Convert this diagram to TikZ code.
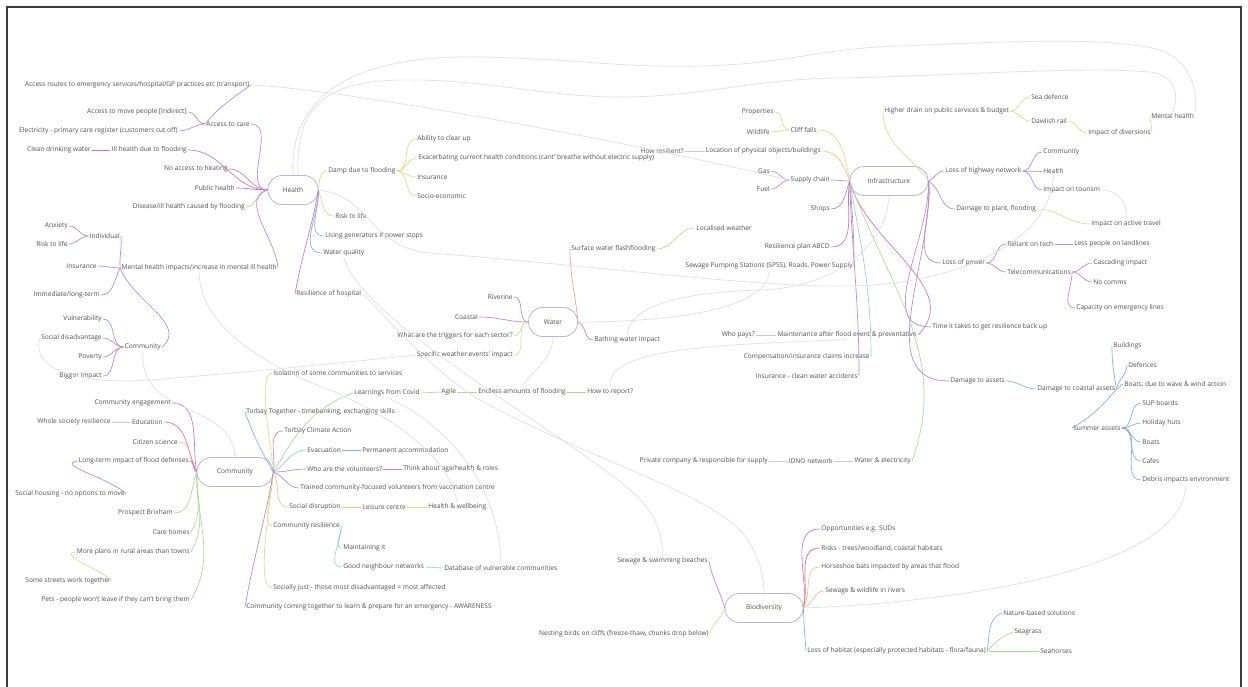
\documentclass[tikz,border=0pt]{standalone}
\usepackage{fontspec}
\setmainfont{Open Sans}
\usetikzlibrary{calc}
\definecolor{txt}{RGB}{80,80,86}
\definecolor{hubc}{RGB}{192,178,214}
\definecolor{cpu}{RGB}{178,135,208}
\definecolor{cmg}{RGB}{212,112,180}
\definecolor{cred}{RGB}{222,100,118}
\definecolor{cyg}{RGB}{216,222,135}
\definecolor{cgr}{RGB}{172,214,155}
\definecolor{cbl}{RGB}{132,170,222}
\definecolor{cte}{RGB}{150,205,200}
\definecolor{cor}{RGB}{236,192,142}
\definecolor{cpk}{RGB}{230,156,156}
\definecolor{cxg}{RGB}{200,200,205}
\definecolor{cxl}{RGB}{224,222,230}
\definecolor{framec}{RGB}{60,60,60}
\newcommand\mmfont{\fontsize{6.6}{7.6}\selectfont}
\begin{document}
\begin{tikzpicture}[x=1pt,y=-1pt,
  every path/.style={line width=0.65pt},
  tx/.style={font=\mmfont, text=txt, inner sep=1pt},
  tl/.style={tx, anchor=west},
  tr/.style={tx, anchor=east},
  hub/.style={draw=hubc, line width=0.8pt, rounded corners=14pt, minimum height=29pt,
    font=\mmfont, text=txt, inner sep=2pt},
  xl/.style={draw=cxl, line width=0.7pt},
  cpu/.style={draw=cpu}, cmg/.style={draw=cmg}, cred/.style={draw=cred},
  cyg/.style={draw=cyg}, cgr/.style={draw=cgr}, cbl/.style={draw=cbl},
  cte/.style={draw=cte}, cor/.style={draw=cor}, cpk/.style={draw=cpk},
  cxg/.style={draw=cxg}]
\useasboundingbox (0,0) rectangle (1248,686);
\fill[white] (0,0) rectangle (1248,686);
\draw[framec, line width=1.2pt] (7,700) -- (7,7) -- (1241,7) -- (1241,700);

% ---------------- Health ----------------
\node[hub, minimum width=50pt] (hl) at (293,190) {Health};
\node[tr] (acc) at (251,124) {Access to care};
\node[tr] (accr) at (251,85) {Access routes to emergency services/hospital/GP practices etc (transport)};
\node[tr] (accm) at (188,112) {Access to move people [Indirect]};
\node[tr] (elec) at (179,131) {Electricity - primary care register (customers cut off)};
\node[tr] (ill) at (188,150) {Ill health due to flooding};
\node[tr] (clean) at (92,150) {Clean drinking water};
\node[tr] (heat) at (229,169) {No access to heating};
\node[tr] (pub) at (236,188) {Public health};
\node[tr] (dis) at (246,207) {Disease/ill health caused by flooding};
\node[tr] (mh) at (278,268) {Mental health impacts/increase in mental ill health};
\node[tr] (ind) at (121,236) {Individual};
\node[tr] (anx) at (69,226) {Anxiety};
\node[tr] (rtla) at (69,244) {Risk to life};
\node[tr] (insa) at (98,266) {Insurance};
\node[tr] (imm) at (101,295) {Immediate/long-term};
\node[tr] (coms) at (162,347) {Community};
\node[tr] (vul) at (103,319) {Vulnerability};
\node[tr] (socd) at (103,338) {Social disadvantage};
\node[tr] (pov) at (103,357) {Poverty};
\node[tr] (big) at (103,376) {Bigger impact};
\node[tl] (damp) at (327,171) {Damp due to flooding};
\node[tl] (rtlb) at (334,216) {Risk to life};
\node[tl] (gen) at (324,236) {Using generators if power stops};
\node[tl] (wq) at (322,253) {Water quality};
\node[tl] (resh) at (295,294) {Resilience of hospital};
\node[tl] (abil) at (416,139) {Ability to clear up};
\node[tl] (exac) at (417,158) {Exacerbating current health conditions (cant' breathe without electric supply)};
\node[tl] (insb) at (416,177) {Insurance};
\node[tl] (soe) at (416,196) {Socio-economic};

\draw[cpu] (hl.west) to[out=180,in=0] (acc.east);
\draw[cpu] (acc.west) to[out=50,in=215] (accr.east);
\draw[cpu] (acc.west) to[out=180,in=0] (accm.east);
\draw[cpu] (acc.west) to[out=180,in=0] (elec.east);
\draw[cmg] (hl.west) to[out=180,in=0] (ill.east);
\draw[cmg] (ill.west) -- (clean.east);
\draw[cmg] (hl.west) to[out=180,in=0] (heat.east);
\draw[cmg] (hl.west) to[out=180,in=0] (pub.east);
\draw[cgr] (hl.west) to[out=180,in=0] (dis.east);
\draw[cpu] (hl.west) to[out=200,in=95] (mh.east);
\draw[cpu] (mh.west) to[out=95,in=-85] (ind.east);
\draw[cpu] (mh.west) to[out=180,in=0] (insa.east);
\draw[cpu] (mh.west) to[out=-120,in=0] (imm.east);
\draw[cpu] (mh.west) to[out=-70,in=40] (coms.east);
\draw[cpu] (ind.west) to[out=180,in=0] (anx.east);
\draw[cpu] (ind.west) to[out=180,in=0] (rtla.east);
\foreach \k in {vul,socd,pov,big} \draw[cpu] (coms.west) to[out=180,in=0] (\k.east);
\draw[cyg] (hl.east) to[out=80,in=180] (damp.west);
\draw[cyg] (hl.east) to[out=-70,in=180] (rtlb.west);
\draw[cbl] (hl.east) to[out=-85,in=180] (gen.west);
\draw[cbl] (hl.east) to[out=-88,in=180] (wq.west);
\draw[cmg] (hl.east) to[out=-100,in=80] (resh.west);
\foreach \k in {abil,exac,insb,soe} \draw[cyg] (damp.east) to[out=0,in=180] (\k.west);

% ---------------- Water ----------------
\node[hub, minimum width=49pt] (wa) at (553,322) {Water};
\node[tr] (riv) at (514,297) {Riverine};
\node[tr] (coast) at (479,317) {Coastal};
\node[tr] (trig) at (514,336) {What are the triggers for each sector?};
\node[tr] (spec) at (514,355) {Specific weather events' impact};
\node[tl] (surf) at (570,249) {Surface water flashflooding};
\node[tl] (locw) at (695,228) {Localised weather};
\node[tl] (bath) at (593,340) {Bathing water impact};
\draw[cpu] (wa.west) to[out=180,in=0] (riv.east);
\draw[cpu] (wa.west) to[out=180,in=0] (coast.east);
\draw[cyg] (wa.west) to[out=180,in=0] (trig.east);
\draw[cyg] (wa.west) to[out=180,in=0] (spec.east);
\draw[cpk] (wa.east) to[out=95,in=-90] (surf.west);
\draw[cor] (surf.east) to[out=0,in=180] (locw.west);
\draw[cpu] (wa.east) to[out=-20,in=180] (bath.west);

% ---------------- Infrastructure ----------------
\node[hub, minimum width=78pt] (inf) at (889,181) {Infrastructure};
\node[tr] (cliff) at (818,130) {Cliff falls};
\node[tr] (prop) at (775,112) {Properties};
\node[tr] (wild) at (771,132) {Wildlife};
\node[tr] (locp) at (822,151) {Location of physical objects/buildings};
\node[tr] (hres) at (685,151) {How resilient?};
\node[tr] (sup) at (831,180) {Supply chain};
\node[tr] (gas) at (771,171) {Gas};
\node[tr] (fuel) at (771,189) {Fuel};
\node[tr] (shops) at (831,209) {Shops};
\node[tr] (rpl) at (831,247) {Resilience plan ABCD};
\node[tr] (spss) at (854,266) {Sewage Pumping Stations (SPSS), Roads, Power Supply};
\node[tr] (maint) at (918,335) {Maintenance after flood event \& preventative};
\node[tr] (whop) at (756,335) {Who pays?};
\node[tr] (comp) at (871,357) {Compensation/insurance claims increase};
\node[tr] (insc) at (859,376) {Insurance - clean water accidents};
\node[tr] (wae) at (912,461) {Water \& electricity};
\node[tr] (idno) at (834,461) {IDNO network};
\node[tr] (priv) at (769,461) {Private company \& responsible for supply};
\node[tl] (hdr) at (883,111) {Higher drain on public services \& budget};
\node[tl] (sea) at (1030,97) {Sea defence};
\node[tl] (daw) at (1030,121) {Dawlish rail};
\node[tl] (div) at (1087,133) {Impact of diversions};
\node[tl] (mhi) at (1150,116) {Mental health};
\node[tl] (lhn) at (944,171) {Loss of highway network};
\node[tl] (comi) at (1042,152) {Community};
\node[tl] (hli) at (1042,171) {Health};
\node[tl] (tour) at (1042,190) {Impact on tourism};
\node[tl] (dmg) at (955,209) {Damage to plant, flooding};
\node[tl] (act) at (1090,224) {Impact on active travel};
\node[tl] (lop) at (941,263) {Loss of power};
\node[tl] (rel) at (1006,244) {Reliant on tech};
\node[tl] (less) at (1073,244) {Less people on landlines};
\node[tl] (tel) at (1006,272) {Telecommunications};
\node[tl] (casc) at (1092,263) {Cascading impact};
\node[tl] (noc) at (1092,282) {No comms};
\node[tl] (cap) at (1075,308) {Capacity on emergency lines};
\node[tl] (tim) at (931,327) {Time it takes to get resilience back up};
\node[tl] (dass) at (949,381) {Damage to assets};
\node[tl] (dca) at (1036,389) {Damage to coastal assets};
\node[tl] (bld) at (1112,346) {Buildings};
\node[tl] (dfn) at (1127,365) {Defences};
\node[tl] (bts) at (1123,384) {Boats, due to wave \& wind action};
\node[tl] (sum) at (1072,428) {Summer assets};
\node[tl] (supb) at (1141,403) {SUP boards};
\node[tl] (hol) at (1141,423) {Holiday huts};
\node[tl] (boats) at (1141,442) {Boats};
\node[tl] (caf) at (1141,461) {Cafes};
\node[tl] (deb) at (1141,480) {Debris impacts environment};

\draw[cyg] (inf.west) to[out=100,in=0] (cliff.east);
\draw[cyg] (cliff.west) to[out=180,in=0] (prop.east);
\draw[cyg] (cliff.west) to[out=180,in=0] (wild.east);
\draw[cor] (inf.west) to[out=110,in=0] (locp.east);
\draw[cxg] (locp.west) -- (hres.east);
\draw[cpu] (inf.west) to[out=180,in=0] (sup.east);
\draw[cpu] (sup.west) to[out=180,in=0] (gas.east);
\draw[cpu] (sup.west) to[out=180,in=0] (fuel.east);
\draw[cpu] (inf.west) to[out=250,in=0] (shops.east);
\draw[cmg] (inf.west) to[out=260,in=0] (rpl.east);
\draw[cpu] (inf.west) to[out=-85,in=90] (spss.east);
\draw[cmg] (inf.west) to[out=-75,in=45] (maint.east);
\draw[cxg] (maint.west) -- (whop.east);
\draw[cte] (inf.west) to[out=-80,in=90] (comp.east);
\draw[cpu] (inf.west) to[out=-88,in=90] (insc.east);
\draw[cgr] (inf.west) to[out=-70,in=70] (wae.east);
\draw[cxg] (wae.west) -- (idno.east);
\draw[cxg] (idno.west) -- (priv.east);
\draw[cyg] (inf.east) to[out=125,in=-90] (hdr.west);
\draw[cyg] (hdr.east) to[out=0,in=180] (sea.west);
\draw[cyg] (hdr.east) to[out=0,in=180] (daw.west);
\draw[cyg] (daw.east) to[out=0,in=180] (div.west);
\draw[cyg] (div.east) to[out=90,in=-90] (mhi.west);
\draw[cpu] (inf.east) to[out=20,in=180] (lhn.west);
\foreach \k in {comi,hli,tour} \draw[cpu] (lhn.east) to[out=0,in=180] (\k.west);
\draw[cpu] (inf.east) to[out=-30,in=180] (dmg.west);
\draw[cyg] (dmg.east) to[out=0,in=180] (act.west);
\draw[cpu] (inf.east) to[out=-80,in=180] (lop.west);
\draw[cpu] (lop.east) to[out=0,in=180] (rel.west);
\draw[cpu] (lop.east) to[out=0,in=180] (tel.west);
\draw[cpu] (rel.east) -- (less.west);
\draw[cpu] (tel.east) to[out=0,in=180] (casc.west);
\draw[cpu] (tel.east) to[out=0,in=180] (noc.west);
\draw[cpu] (tel.east) to[out=-90,in=180] (cap.west);
\draw[cpu] (inf.east) to[out=-88,in=180] (tim.west);
\draw[cpu] (inf.east) to[out=-86,in=180] (dass.west);
\draw[cbl] (dass.east) to[out=0,in=180] (dca.west);
\draw[cbl] (dca.east) to[out=100,in=-90] (bld.west);
\draw[cbl] (dca.east) to[out=80,in=-90] (dfn.west);
\draw[cbl] (dca.east) to[out=0,in=180] (bts.west);
\draw[cbl] (dca.east) to[out=-130,in=30] (sum.west);
\foreach \k in {supb,hol,boats,caf,deb} \draw[cbl] (sum.east) to[out=0,in=180] (\k.west);

% ---------------- Biodiversity ----------------
\node[hub, minimum width=78pt] (bio) at (764,608) {Biodiversity};
\node[tr] (sew) at (709,561) {Sewage \& swimming beaches};
\node[tr] (nest) at (710,634) {Nesting birds on cliffs (freeze-thaw, chunks drop below)};
\node[tl] (opp) at (820,529) {Opportunities e.g. SUDs};
\node[tl] (risk) at (820,548) {Risks - trees/woodland, coastal habitats};
\node[tl] (bats) at (820,567) {Horseshoe bats impacted by areas that flood};
\node[tl] (sewr) at (824,591) {Sewage \& wildlife in rivers};
\node[tl] (loh) at (806,651) {Loss of habitat (especially protected habitats - flora/fauna)};
\node[tl] (nbs) at (1002,613) {Nature-based solutions};
\node[tl] (sg) at (1013,632) {Seagrass};
\node[tl] (sh) at (1039,651) {Seahorses};
\draw[cpu] (bio.west) to[out=105,in=-80] (sew.east);
\draw[cyg] (bio.west) to[out=-105,in=80] (nest.east);
\draw[cmg] (bio.east) to[out=80,in=180] (opp.west);
\draw[cred] (bio.east) to[out=75,in=180] (risk.west);
\draw[cor] (bio.east) to[out=60,in=180] (bats.west);
\draw[cor] (bio.east) to[out=20,in=180] (sewr.west);
\draw[cbl] (bio.east) to[out=-88,in=95] (loh.west);
\draw[cbl] (loh.east) to[out=80,in=200] (nbs.west);
\draw[cgr] (loh.east) to[out=45,in=200] (sg.west);
\draw[cgr] (loh.east) -- (sh.west);

% ---------------- Community ----------------
\node[hub, minimum width=76pt] (cm) at (235,472) {Community};
\node[tr] (ceng) at (172,403) {Community engagement};
\node[tr] (edu) at (164,422) {Education};
\node[tr] (whole) at (112,422) {Whole society resilience};
\node[tr] (cit) at (179,442) {Citizen science};
\node[tr] (ltf) at (190,461) {Long-term impact of flood defenses};
\node[tr] (sho) at (126,494) {Social housing - no options to move};
\node[tr] (pb) at (174,513) {Prospect Brixham};
\node[tr] (ch) at (191,532) {Care homes};
\node[tr] (mp) at (191,552) {More plans in rural areas than towns};
\node[tr] (sst) at (112,581) {Some streets work together};
\node[tr] (pets) at (191,600) {Pets - people won't leave if they can't bring them};
\node[tl] (iso) at (272,373) {Isolation of some communities to services};
\node[tl] (lrn) at (353,393) {Learnings from Covid};
\node[tl] (agile) at (440,392) {Agile};
\node[tl] (endl) at (477,392) {Endless amounts of flooding};
\node[tl] (how) at (586,392) {How to report?};
\node[tl] (tt) at (245,412) {Torbay Together - timebanking, exchanging skills};
\node[tl] (tca) at (283,431) {Torbay Climate Action};
\node[tl] (evac) at (306,450) {Evacuation};
\node[tl] (perm) at (361,450) {Permanent accommodation};
\node[tl] (vol) at (306,469) {Who are the volunteers?};
\node[tl] (think) at (402,469) {Think about age/health \& roles};
\node[tl] (trn) at (299,488) {Trained community-focused volunteers from vaccination centre};
\node[tl] (sd) at (288,507) {Social disruption};
\node[tl] (lei) at (361,507) {Leisure centre};
\node[tl] (hw) at (427,507) {Health \& wellbeing};
\node[tl] (cr) at (272,526) {Community resilience};
\node[tl] (mait) at (342,548) {Maintaining it};
\node[tl] (gnn) at (342,567) {Good neighbour networks};
\node[tl] (db) at (443,568) {Database of vulnerable communities};
\node[tl] (sj) at (272,588) {Socially just - those most disadvantaged = most affected};
\node[tl] (cct) at (245,607) {Community coming together to learn \& prepare for an emergency - AWARENESS};

\draw[cmg] (cm.west) to[out=100,in=0] (ceng.east);
\draw[cmg] (cm.west) to[out=115,in=0] (edu.east);
\draw[cxg] (edu.west) -- (whole.east);
\draw[cor] (cm.west) to[out=130,in=0] (cit.east);
\draw[cmg] (cm.west) to[out=160,in=0] (ltf.east);
\draw[cpu] (ltf.west) to[out=190,in=135] (sho.east);
\draw[cgr] (cm.west) to[out=-110,in=0] (pb.east);
\draw[cgr] (cm.west) to[out=-90,in=60] (ch.east);
\draw[cgr] (cm.west) to[out=-90,in=60] (mp.east);
\draw[cyg] (mp.west) to[out=190,in=135] (sst.east);
\draw[cgr] (cm.west) to[out=-90,in=60] (pets.east);
\draw[cyg] (cm.east) to[out=92,in=180,looseness=0.4] (iso.west);
\draw[cgr] (cm.east) to[out=60,in=200] (lrn.west);
\draw[cgr] (lrn.east) -- (agile.west);
\draw[cgr] (agile.east) -- (endl.west);
\draw[cgr] (endl.east) -- (how.west);
\draw[cbl] (cm.east) to[out=120,in=-70] (tt.west);
\draw[cpu] (cm.east) to[out=80,in=180] (tca.west);
\draw[cte] (cm.east) to[out=30,in=180] (evac.west);
\draw[cbl] (evac.east) -- (perm.west);
\draw[cpu] (cm.east) to[out=0,in=180] (vol.west);
\draw[cpu] (vol.east) -- (think.west);
\draw[cpu] (cm.east) to[out=-20,in=180] (trn.west);
\draw[cor] (cm.east) to[out=-60,in=180] (sd.west);
\draw[cor] (sd.east) -- (lei.west);
\draw[cyg] (lei.east) -- (hw.west);
\draw[cyg] (cm.east) to[out=-92,in=180,looseness=0.5] (cr.west);
\draw[cte] (cr.east) to[out=-90,in=180] (mait.west);
\draw[cte] (cr.east) to[out=-90,in=180] (gnn.west);
\draw[cte] (gnn.east) -- (db.west);
\draw[cyg] (cm.east) to[out=-92,in=180,looseness=0.4] (sj.west);
\draw[cpu] (cm.east) to[out=-100,in=80] (cct.west);

% ---------------- cross links ----------------
\draw[xl] (hl.north) .. controls (288,80) and (380,55) .. (480,57)
  .. controls (580,59) and (620,68) .. (700,66)
  .. controls (790,64) and (820,48) .. (900,46)
  .. controls (1000,42) and (1110,36) .. (1160,50)
  .. controls (1190,60) and (1198,90) .. (mhi.north east);
\draw[xl] ([xshift=5pt]hl.north) .. controls (295,100) and (330,78) .. (420,80)
  .. controls (500,82) and (550,97) .. (620,97)
  .. controls (700,97) and (760,78) .. (840,78)
  .. controls (950,76) and (1080,66) .. (1150,72)
  .. controls (1175,75) and (1180,95) .. (mhi.north);
\draw[xl] (accr.east) .. controls (330,88) and (600,135) .. (sup.west);
\draw[xl] (hl.east) .. controls (370,195) and (370,248) .. (430,253)
  .. controls (600,266) and (760,288) .. (850,286)
  .. controls (960,284) and (1052,240) .. (hli.south);
\draw[xl] (coms.south) .. controls (140,420) and (232,400) .. (cm.north);
\draw[xl] (socd.west) .. controls (30,370) and (80,385) .. (150,380)
  .. controls (250,372) and (350,362) .. (spec.west);
\draw[xl] (mh.south) .. controls (200,320) and (250,360) .. (330,390)
  .. controls (400,420) and (450,460) .. (hw.north);
\draw[xl] (resh.east) .. controls (390,320) and (430,370) .. (480,400)
  .. controls (580,455) and (700,490) .. (740,530)
  .. controls (758,550) and (764,575) .. (bio.north);
\draw[xl] (wq.south) .. controls (360,320) and (560,430) .. (630,490)
  .. controls (655,510) and (663,535) .. (sew.north);
\draw[xl] (lrn.south) .. controls (440,420) and (500,480) .. (db.north);
\draw[xl] (wa.south) .. controls (553,360) and (530,372) .. (endl.north);
\draw[xl] (bath.north) .. controls (630,300) and (700,292) .. (760,290)
  .. controls (830,288) and (886,250) .. (inf.south);
\draw[xl] (wa.east) .. controls (660,322) and (768,312) .. (spss.south);
\draw[xl] (how.north) .. controls (605,350) and (700,345) .. (maint.south);
\draw[xl] (tour.east) .. controls (1120,190) and (1128,205) .. (act.north);
\draw[xl] (deb.south) .. controls (1185,560) and (1000,600) .. (bio.east);
\end{tikzpicture}
\end{document}
